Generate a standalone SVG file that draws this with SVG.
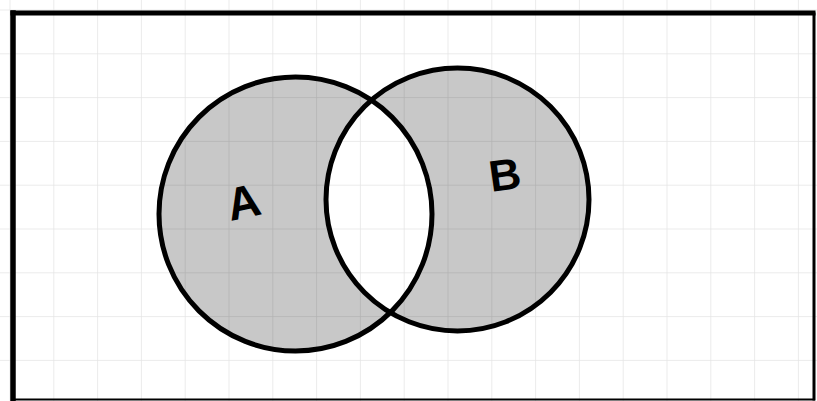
<svg xmlns="http://www.w3.org/2000/svg" width="817" height="401" viewBox="0 0 817 401">
<defs>
<pattern id="grid" x="9.5" y="9.5" width="43.8" height="43.8" patternUnits="userSpaceOnUse">
<path d="M0 0H43.8M0 0V43.8" fill="none" stroke="#000" stroke-opacity="0.1" stroke-width="1.5"/>
</pattern>
</defs>
<style>
.ring{fill:none;stroke:#000;stroke-width:5}
.lbl{font-family:"Liberation Sans",Arial,sans-serif;font-weight:bold;fill:#000}
.frame{fill:none;stroke:#000;stroke-linecap:square}
</style>
<rect width="817" height="401" fill="#fff"/>
<path d="M297 76a137 137 0 1 0 0.01 0Z M458 68a131.5 131.5 0 1 0 0.01 0Z" fill="#c8c8c8" fill-rule="evenodd"/>
<rect width="817" height="401" fill="url(#grid)"/>
<g id="frame">
<path class="frame" d="M13 13H813" stroke-width="5"/>
<path class="frame" d="M13 13V399" stroke-width="5.5"/>
<path class="frame" d="M814 14V399" stroke-width="3"/>
<path class="frame" d="M13 399.5H814" stroke-width="2"/>
</g>
<g id="node-a">
<ellipse class="ring" cx="295.5" cy="214" rx="136.5" ry="137"/>
<text class="lbl" x="243" y="218" font-size="46" text-anchor="middle" transform="rotate(-12 243 200)">A</text>
</g>
<g id="node-b">
<ellipse class="ring" cx="457.5" cy="199.5" rx="131.5" ry="131.5"/>
<text class="lbl" x="505" y="190" font-size="44" text-anchor="middle" transform="rotate(-8 505 175)">B</text>
</g>
<g id="connectors"/>
</svg>
